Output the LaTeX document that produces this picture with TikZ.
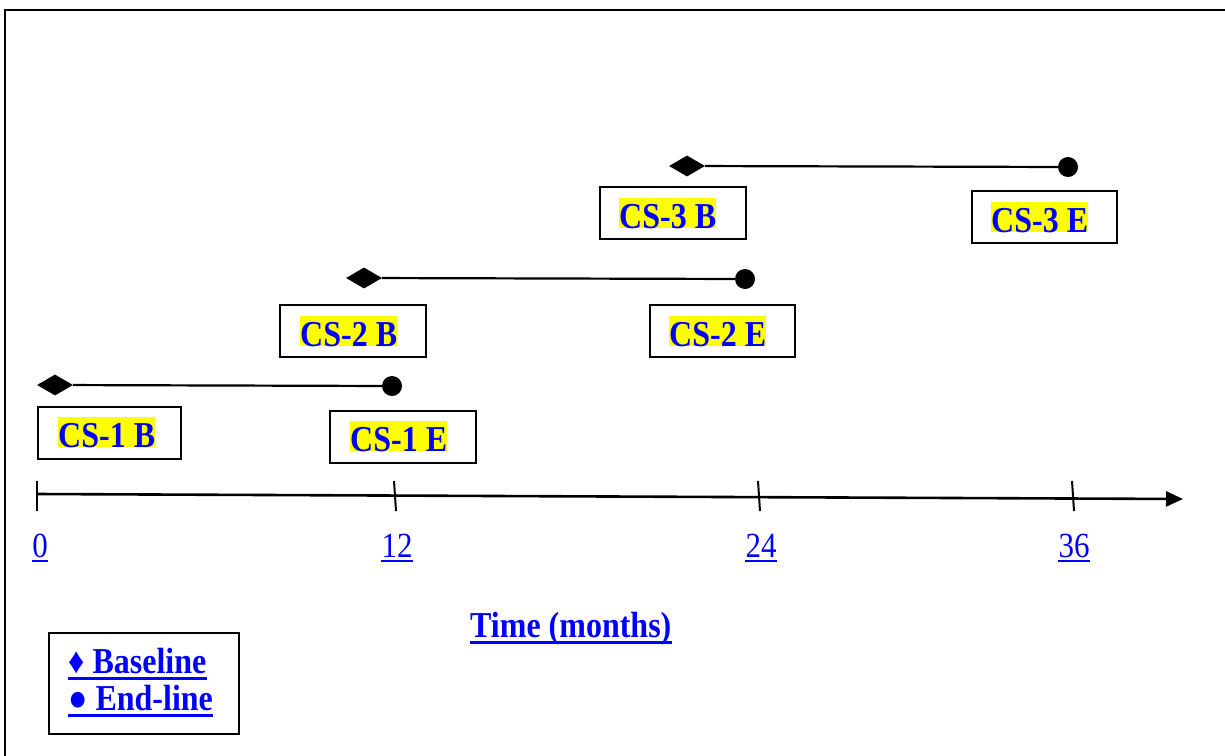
\documentclass[tikz,border=0pt]{standalone}
\usepackage{fontspec}
\usepackage{graphicx}
\setmainfont{Liberation Serif}
\usetikzlibrary{shapes.geometric,arrows.meta}
\newcommand{\vst}[1]{\scalebox{1}[1.14]{#1}}
\definecolor{hlblue}{RGB}{0,0,255}
\definecolor{hlyellow}{RGB}{255,255,0}
\tikzset{
  csbox/.style={draw=black,line width=2pt,minimum width=#1,minimum height=52pt,inner sep=0pt},
  cstext/.style={fill=hlyellow,text=hlblue,inner sep=0pt,text height=30pt,text depth=0pt,anchor=base west,font=\fontsize{32}{36}\selectfont\bfseries},
  base/.style={diamond,fill=black,minimum width=36pt,minimum height=21pt,inner sep=0pt},
  endp/.style={circle,fill=black,minimum size=20pt,inner sep=0pt},
  span/.style={line width=2.2pt},
  ticklbl/.style={text=hlblue,inner sep=0pt,anchor=base,font=\fontsize{31}{36}\selectfont},
  tickmark/.style={line width=2pt},
  blue bold/.style={text=hlblue,inner sep=0pt,anchor=base west,font=\fontsize{32}{36}\selectfont\bfseries},
}
\begin{document}
\begin{tikzpicture}[x=1pt,y=-1pt]
\useasboundingbox (0,0) rectangle (1225,755);
% frame
\draw[line width=2.2pt] (5,770) -- (5,10) -- (1240,10);

% row 1
\node[base] (d1) at (55,385) {};
\node[endp] (c1) at (392,386) {};
\draw[span] (d1) -- (c1);
\node[csbox=143pt,anchor=north west] (b1b) at (37,406) {};
\node[cstext] (t1b) at (58,447) {\vst{CS-1 B}};
\node[csbox=146pt,anchor=north west] (b1e) at (329,410) {};
\node[cstext] (t1e) at (350,451) {\vst{CS-1 E}};

% row 2
\node[base] (d2) at (364,278) {};
\node[endp] (c2) at (745,279) {};
\draw[span] (d2) -- (c2);
\node[csbox=146pt,anchor=north west] (b2b) at (279,304) {};
\node[cstext] (t2b) at (300,346) {\vst{CS-2 B}};
\node[csbox=145pt,anchor=north west] (b2e) at (649,304) {};
\node[cstext] (t2e) at (669,346) {\vst{CS-2 E}};

% row 3
\node[base] (d3) at (687,166) {};
\node[endp] (c3) at (1068,167) {};
\draw[span] (d3) -- (c3);
\node[csbox=146pt,anchor=north west] (b3b) at (599,186) {};
\node[cstext] (t3b) at (619,228) {\vst{CS-3 B}};
\node[csbox=145pt,anchor=north west] (b3e) at (971,190) {};
\node[cstext] (t3e) at (991,232) {\vst{CS-3 E}};

% axis
\coordinate (a0) at (37,494);
\coordinate (aend) at (1183,499);
\draw[line width=2.6pt,-{Triangle[length=17pt,width=15pt]}] (a0) -- (aend);
\coordinate (k0t) at (37,481);   \coordinate (k0b) at (37,511);
\coordinate (k1t) at (394,481);  \coordinate (k1b) at (396,511);
\coordinate (k2t) at (758,481);  \coordinate (k2b) at (760,511);
\coordinate (k3t) at (1072,481); \coordinate (k3b) at (1074,511);
\draw[tickmark] (k0t) -- (k0b);
\draw[tickmark] (k1t) -- (k1b);
\draw[tickmark] (k2t) -- (k2b);
\draw[tickmark] (k3t) -- (k3b);

\node[ticklbl] (l0) at (40,557) {\vst{0}};
\node[ticklbl] (l1) at (397,557) {\vst{12}};
\node[ticklbl] (l2) at (761,557) {\vst{24}};
\node[ticklbl] (l3) at (1074,557) {\vst{36}};
\foreach \n in {l0,l1,l2,l3}{
  \draw[hlblue,line width=1.6pt] ([yshift=-4pt]\n.base west) -- ([yshift=-4pt]\n.base east);
}

% axis title
\node[blue bold] (title) at (470,637) {\vst{Time (months)}};
\draw[hlblue,line width=3pt] ([yshift=-5pt]title.base west) -- ([yshift=-5pt]title.base east);

% legend
\node[draw=black,line width=2pt,minimum width=190pt,minimum height=101pt,anchor=north west,inner sep=0pt] (leg) at (48,632) {};
\node[blue bold] (lg1) at (68,673) {\vst{♦ Baseline}};
\draw[hlblue,line width=3pt] ([yshift=-5pt]lg1.base west) -- ([yshift=-5pt]lg1.base east);
\node[blue bold] (lg2) at (68,710) {\vst{● End-line}};
\draw[hlblue,line width=3pt] ([yshift=-5pt]lg2.base west) -- ([yshift=-5pt]lg2.base east);
\end{tikzpicture}
\end{document}
